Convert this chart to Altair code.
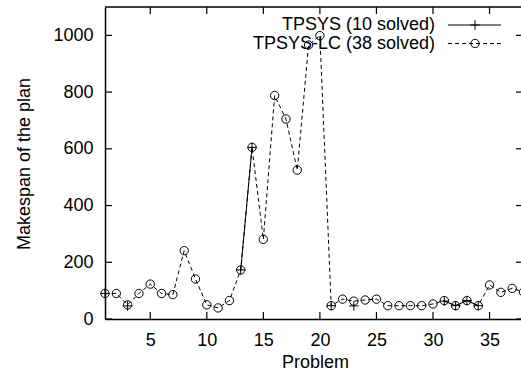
import altair as alt
import pandas as pd

FONT = "Liberation Sans"

# ---- data ----
problems = list(range(1, 39))
lc_makespan = [90, 90, 50, 90, 123, 90, 86, 241, 141, 50,
               39, 65, 173, 605, 281, 788, 705, 525, 966, 999,
               47, 70, 63, 67, 70, 47, 47, 47, 47, 53,
               65, 47, 65, 47, 120, 94, 108, 95]
tp_problems = [1, 3, 13, 14, 21, 23, 31, 32, 33, 34]
tp_makespan = [90, 46, 173, 605, 47, 46, 63, 47, 65, 47]
x_ticks = [5, 10, 15, 20, 25, 30, 35]
y_ticks = [0, 200, 400, 600, 800, 1000]
legend_labels = ["TPSYS (10 solved)", "TPSYS-LC (38 solved)"]
x_title = "Problem"
y_title = "Makespan of the plan"

lc_df = pd.DataFrame({"problem": problems, "makespan": lc_makespan})
tp_df = pd.DataFrame({"problem": tp_problems, "makespan": tp_makespan})
tp_df["seg"] = (tp_df["problem"].diff() != 1).cumsum()
xt_df = pd.DataFrame({"tick": x_ticks})
yt_df = pd.DataFrame({"tick": y_ticks})
one_df = pd.DataFrame({"k": [0]})

W, H = 416, 312
TICK = 7
RIGHT_EDGE = 418

xscale = alt.Scale(domain=[1, 37.78], nice=False, zero=False)
yscale = alt.Scale(domain=[0, 1100], nice=False, zero=False)

xaxis = alt.Axis(values=x_ticks, title=x_title, ticks=False, tickSize=0, grid=False, format="d",
                 domain=True, domainColor="black", domainWidth=1.5,
                 labelFont=FONT, labelFontSize=18, labelColor="black", labelPadding=12.5,
                 titleFont=FONT, titleFontSize=18, titleFontWeight="normal", titleColor="black",
                 titleX=210, titleY=48, titleBaseline="alphabetic", titleAlign="center")
yaxis = alt.Axis(values=y_ticks, title=y_title, ticks=False, tickSize=0, grid=False, format="d",
                 domain=True, domainColor="black", domainWidth=1.5,
                 labelFont=FONT, labelFontSize=18, labelColor="black", labelPadding=12,
                 titleFont=FONT, titleFontSize=18, titleFontWeight="normal", titleColor="black",
                 titleX=-75.5, titleY=156.5, titleBaseline="alphabetic", titleAlign="center",
                 titleAngle=270)


def X(field):
    return alt.X(field, type="quantitative", scale=xscale, axis=xaxis)


def Y(field):
    return alt.Y(field, type="quantitative", scale=yscale, axis=yaxis)


PLUS = "M-1,0H1M0,-1V1"

lc_line = alt.Chart(lc_df).mark_line(color="black", strokeWidth=1, strokeDash=[4, 3]).encode(
    x=X("problem"), y=Y("makespan"))
lc_pts = alt.Chart(lc_df).mark_point(shape="circle", size=70, filled=False, color="black",
                                     strokeWidth=1, opacity=1).encode(
    x=X("problem"), y=Y("makespan"))
tp_line = alt.Chart(tp_df).mark_line(color="black", strokeWidth=1).encode(
    x=X("problem"), y=Y("makespan"), detail="seg:N")
tp_pts = alt.Chart(tp_df).mark_point(shape=PLUS, size=90, filled=False, color="black",
                                     strokeWidth=1, opacity=1).encode(
    x=X("problem"), y=Y("makespan"))

# frame: top border and inward ticks (mirrored like gnuplot)
top_border = alt.Chart(one_df).mark_rule(color="black", strokeWidth=1.5).encode(
    x=alt.value(0), x2=alt.value(W), y=alt.value(0))
bt = alt.Chart(xt_df).mark_rule(color="black", strokeWidth=1.2).encode(
    x=X("tick"), y=alt.value(H), y2=alt.value(H - TICK))
tt = alt.Chart(xt_df).mark_rule(color="black", strokeWidth=1.2).encode(
    x=X("tick"), y=alt.value(0), y2=alt.value(TICK))
lt = alt.Chart(yt_df).mark_rule(color="black", strokeWidth=1.2).encode(
    y=Y("tick"), x=alt.value(0), x2=alt.value(TICK))
rt = alt.Chart(yt_df).mark_rule(color="black", strokeWidth=1.2).encode(
    y=Y("tick"), x=alt.value(RIGHT_EDGE - TICK), x2=alt.value(RIGHT_EDGE))

# legend (gnuplot style: label on left, sample on right)
ROW1, ROW2 = 18, 36.5
TXT_X, L0, L1, MK = 330, 343, 396, 370
leg = []
for lab, row, dash, shape, size in [
        (legend_labels[0], ROW1, [1, 0], PLUS, 90),
        (legend_labels[1], ROW2, [4, 3], "circle", 70)]:
    leg.append(alt.Chart(one_df).mark_text(align="right", baseline="middle", font=FONT,
                                           fontSize=18, color="black").encode(
        x=alt.value(TXT_X), y=alt.value(row), text=alt.value(lab)))
    leg.append(alt.Chart(one_df).mark_rule(color="black", strokeWidth=1, strokeDash=dash).encode(
        x=alt.value(L0), x2=alt.value(L1), y=alt.value(row)))
    leg.append(alt.Chart(one_df).mark_point(shape=shape, size=size, filled=False, color="black",
                                            strokeWidth=1, opacity=1).encode(
        x=alt.value(MK), y=alt.value(row)))

chart = alt.layer(tp_line, lc_line, tp_pts, lc_pts, top_border, bt, tt, lt, rt, *leg).properties(
    width=W, height=H,
    autosize=alt.AutoSizeParams(type="none"),
    padding={"left": 105, "top": 7, "right": 0, "bottom": 60},
    background="white",
).configure_view(stroke="transparent")

chart.save("out.html", embed_options={"renderer": "svg", "actions": False})
